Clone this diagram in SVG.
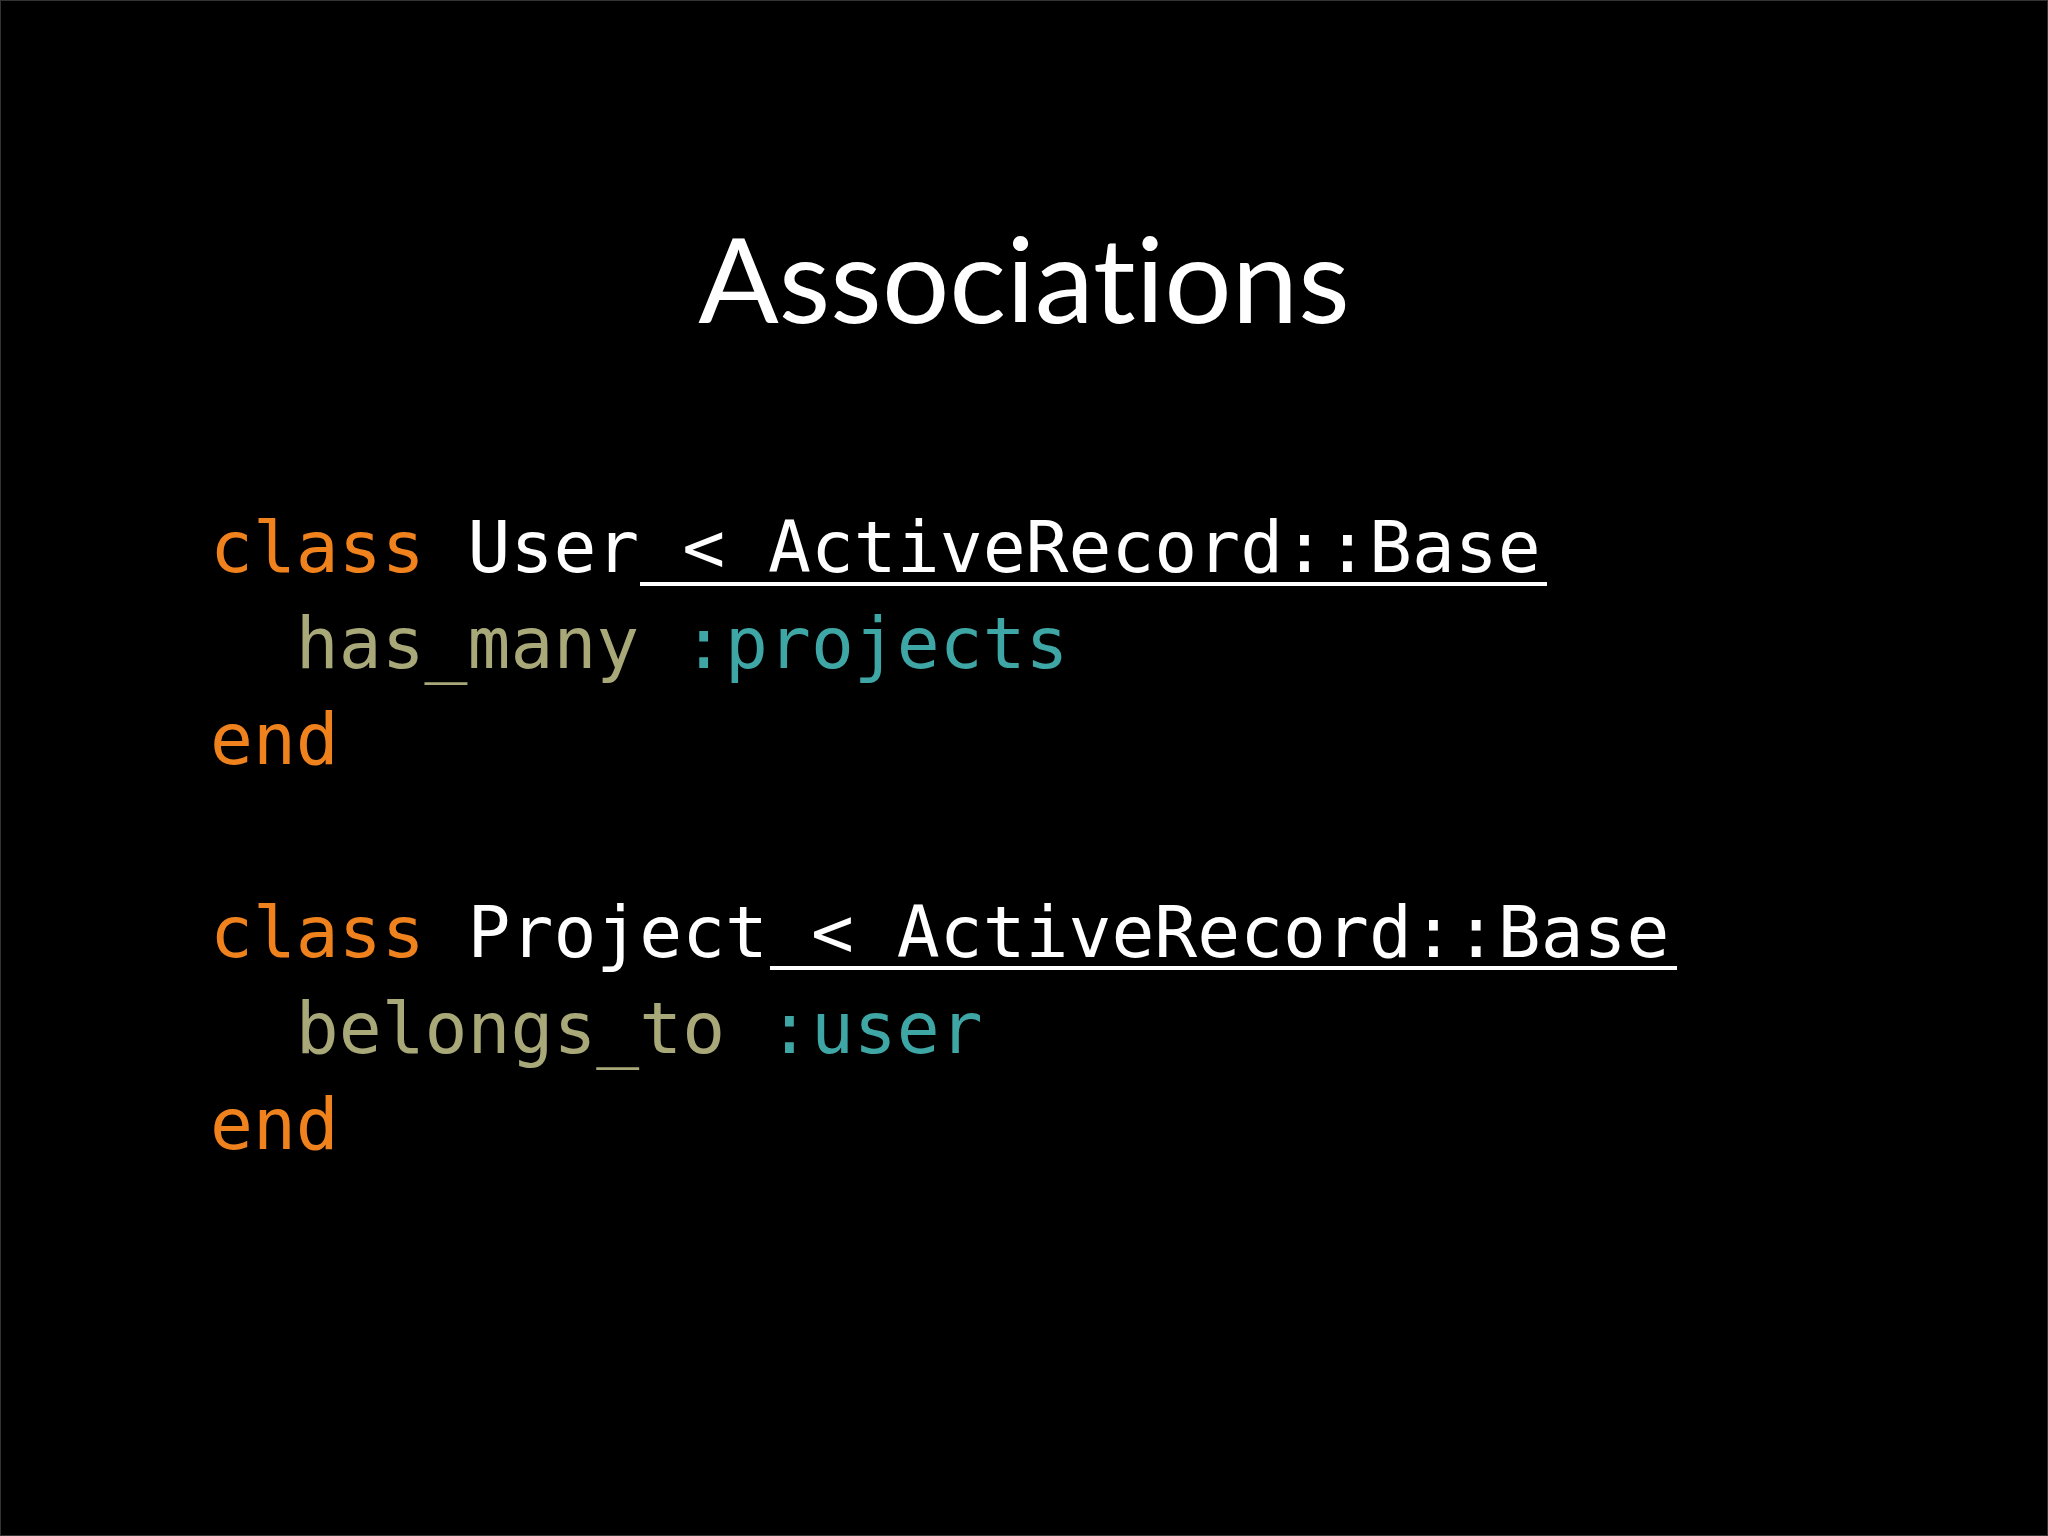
<svg xmlns="http://www.w3.org/2000/svg" width="2048" height="1536" viewBox="0 0 2048 1536">
<style>
.c{font-family:"DejaVu Sans Mono",monospace;font-size:71.3px;white-space:pre}
.k{fill:#f0821e}.w{fill:#ffffff}.m{fill:#a8a878}.s{fill:#3fa6a6}
</style>
<rect x="0" y="0" width="2048" height="1536" fill="#000"/>
<rect x="0.5" y="0.5" width="2047" height="1535" fill="none" stroke="#333" stroke-width="1"/>
<text x="1024" y="323" text-anchor="middle" font-family="Lato, 'Open Sans', sans-serif" font-size="119" fill="#fff" style="font-variant-ligatures:none">Associations</text>
<g id="code">
<text class="c" x="210" y="572" xml:space="preserve"><tspan class="k">class</tspan><tspan class="w"> User &lt; ActiveRecord::Base</tspan></text>
<text class="c" x="210" y="668" xml:space="preserve"><tspan class="m">  has_many</tspan><tspan class="s"> :projects</tspan></text>
<text class="c k" x="210" y="764">end</text>
<text class="c" x="210" y="957" xml:space="preserve"><tspan class="k">class</tspan><tspan class="w"> Project &lt; ActiveRecord::Base</tspan></text>
<text class="c" x="210" y="1053" xml:space="preserve"><tspan class="m">  belongs_to</tspan><tspan class="s"> :user</tspan></text>
<text class="c k" x="210" y="1149">end</text>
<line x1="640" y1="584" x2="1547" y2="584" stroke="#fff" stroke-width="4"/>
<line x1="770" y1="968" x2="1677" y2="968" stroke="#fff" stroke-width="4"/>
</g>
</svg>
